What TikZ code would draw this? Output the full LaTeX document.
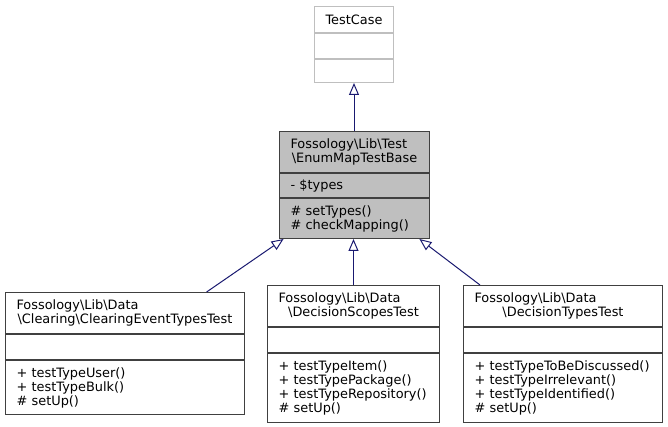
\documentclass[tikz,border=0pt]{standalone}
\usepackage{fontspec}
\setmainfont{DejaVu Sans}
\usepackage{tikz}
\usetikzlibrary{arrows.meta,positioning,calc}
\definecolor{cls_border}{RGB}{64, 64, 64}
\definecolor{ext_border}{RGB}{191, 191, 191}
\definecolor{base_fill}{RGB}{191, 191, 191}
\definecolor{edge_blue}{RGB}{25, 25, 112}
\newcommand{\bsl}{\textbackslash}
\tikzstyle{cell}=[rectangle,draw=cls_border,line width=1pt,inner xsep=11pt,
  inner ysep=0pt,align=left,font=\fontsize{12.9}{14}\selectfont]
\tikzstyle{extcell}=[cell,draw=ext_border]
\tikzstyle{basecell}=[cell,fill=base_fill]
\tikzstyle{inherit}=[draw=edge_blue,line width=1pt,
  -{Triangle[open,length=12pt,width=10pt]}]

\begin{document}
\begin{tikzpicture}[x=1pt,y=-1pt]
        \useasboundingbox (0,0) rectangle (668,427);
        \fill[white] (0,0) rectangle (668,427);
        % TestCase
        \node [style=extcell,anchor=north west,inner xsep=9pt,minimum width=79pt,
          text width=61pt,minimum height=26pt] (tcT) at (314,6)
          {\hfill\mbox{TestCase}\hfill\mbox{}};
        \node [style=extcell,below=0pt of tcT,minimum width=79pt,text width=57pt,
          minimum height=25pt] (tcA) {};
        \node [style=extcell,below=0pt of tcA,minimum width=79pt,text width=57pt,
          minimum height=23pt] (tcM) {};
        % EnumMapTestBase
        \node [style=basecell,anchor=north west,minimum width=150pt,text width=128pt,
          minimum height=41pt] (bsT) at (279,131)
          {Fossology\bsl Lib\bsl Test\\\hfill\bsl EnumMapTestBase\hfill\mbox{}};
        \node [style=basecell,below=0pt of bsT,minimum width=150pt,text width=128pt,
          minimum height=24pt] (bsA) {- \$types};
        \node [style=basecell,below=0pt of bsA,minimum width=150pt,text width=128pt,
          minimum height=40pt] (bsM) {\# setTypes()\\\# checkMapping()};
        % ClearingEventTypesTest
        \node [style=cell,anchor=north west,minimum width=239pt,text width=217pt,
          minimum height=41pt] (lcT) at (5,292)
          {Fossology\bsl Lib\bsl Data\\\hfill\bsl Clearing\bsl ClearingEventTypesTest\hfill\mbox{}};
        \node [style=cell,below=0pt of lcT,minimum width=239pt,text width=217pt,
          minimum height=25pt] (lcA) {};
        \node [style=cell,below=0pt of lcA,minimum width=239pt,text width=217pt,
          minimum height=54pt] (lcM) {+ testTypeUser()\\+ testTypeBulk()\\\# setUp()};
        % DecisionScopesTest
        \node [style=cell,anchor=north west,minimum width=172pt,text width=150pt,
          minimum height=41pt] (mcT) at (267,285)
          {Fossology\bsl Lib\bsl Data\\\hfill\bsl DecisionScopesTest\hfill\mbox{}};
        \node [style=cell,below=0pt of mcT,minimum width=172pt,text width=150pt,
          minimum height=25pt] (mcA) {};
        \node [style=cell,below=0pt of mcA,minimum width=172pt,text width=150pt,
          minimum height=69pt] (mcM)
          {+ testTypeItem()\\+ testTypePackage()\\+ testTypeRepository()\\\# setUp()};
        % DecisionTypesTest
        \node [style=cell,anchor=north west,minimum width=199pt,text width=177pt,
          minimum height=41pt] (rcT) at (463,285)
          {Fossology\bsl Lib\bsl Data\\\hfill\bsl DecisionTypesTest\hfill\mbox{}};
        \node [style=cell,below=0pt of rcT,minimum width=199pt,text width=177pt,
          minimum height=25pt] (rcA) {};
        \node [style=cell,below=0pt of rcA,minimum width=199pt,text width=177pt,
          minimum height=69pt] (rcM)
          {+ testTypeToBeDiscussed()\\+ testTypeIrrelevant()\\+ testTypeIdentified()\\\# setUp()};
        % inheritance
        \draw [style=inherit] (bsT.north -| tcM.south) to (tcM.south);
        \draw [style=inherit] ($(lcT.north west)!0.84!(lcT.north east)$)
          to ($(bsM.south west)!0.03!(bsM.south east)$);
        \draw [style=inherit] (mcT.north) to (bsM.south -| mcT.north);
        \draw [style=inherit] ($(rcT.north west)!0.085!(rcT.north east)$)
          to ($(bsM.south west)!0.93!(bsM.south east)$);
    \end{tikzpicture}
\end{document}
